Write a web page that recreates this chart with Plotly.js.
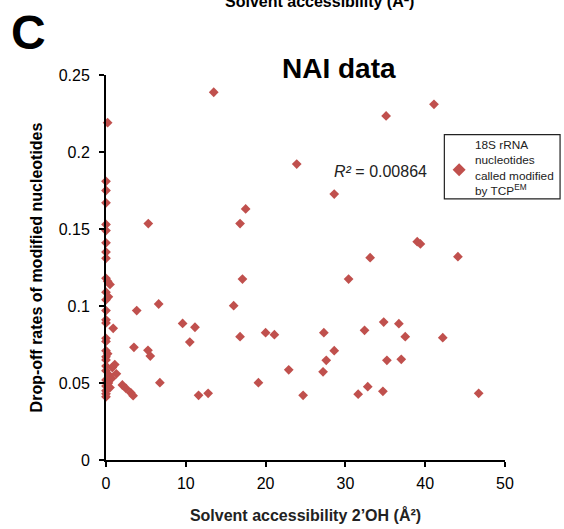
<!DOCTYPE html>
<html>
<head>
<meta charset="utf-8">
<script src="https://cdn.plot.ly/plotly-3.0.1.min.js"></script>
<style>html,body{margin:0;padding:0;background:#fff;}#chart{width:564px;height:529px;}</style>
</head>
<body>
<div id="chart"></div>
<script>
// Solvent accessibility 2'OH (Å²) for each nucleotide called modified
const accessibility = [
  0.2, 0, 0, 0, 0, 0, 0, 0, 0, 0, 0.5, 0.2, 0, 0.3, 0, 0, 0, 0, 0.9, 0, 0, 0, 0, 0, 0.2, 0, 1.1, 1.3, 0, 0.4, 0, 0.3, 0, 0.5, 0, 0, 0, 0.7, 0.8,
  2.05, 2.5, 3.1, 3.4, 3.85, 6.6, 3.5, 5.26, 5.55, 6.75, 5.3, 11.6, 12.8, 9.6, 11.15, 10.5, 16.0, 16.8, 17.1, 16.8, 17.5, 13.5,
  20.0, 21.1, 19.1, 22.9, 24.7, 23.9, 27.3, 27.6, 27.2, 28.6, 28.6, 30.4, 31.6, 32.4, 32.8, 33.1, 34.7, 34.8, 35.2, 35.1,
  36.7, 37.0, 37.5, 39.0, 39.4, 41.1, 42.2, 44.1, 46.7
];
// Drop-off rates of modified nucleotides
const dropoff = [
  0.219, 0.181, 0.175, 0.167, 0.153, 0.149, 0.141, 0.135, 0.131, 0.118, 0.114, 0.116, 0.109, 0.106, 0.104, 0.097, 0.091, 0.089, 0.0855, 0.079, 0.077, 0.071, 0.067, 0.065, 0.069, 0.061, 0.062, 0.056, 0.058, 0.055, 0.052, 0.05, 0.048, 0.047, 0.045, 0.043, 0.041, 0.053, 0.06,
  0.0487, 0.0465, 0.0437, 0.0418, 0.097, 0.1013, 0.0732, 0.0712, 0.0675, 0.0502, 0.1535, 0.042, 0.0433, 0.0887, 0.0862, 0.0766, 0.1002, 0.0801, 0.1175, 0.1535, 0.163, 0.2388,
  0.0827, 0.0814, 0.0502, 0.0586, 0.042, 0.1922, 0.0827, 0.0647, 0.0573, 0.071, 0.1727, 0.1175, 0.0427, 0.0842, 0.0476, 0.1314, 0.0446, 0.0896, 0.0647, 0.2234,
  0.0885, 0.0654, 0.0801, 0.1418, 0.1403, 0.231, 0.0794, 0.132, 0.0433
];
const seriesName = "18S rRNA<br>nucleotides<br>called modified<br>by TCP<sup>EM</sup>";
const xTicks = [0, 10, 20, 30, 40, 50];
const yTicks = [0, 0.05, 0.1, 0.15, 0.2, 0.25];
const yTickText = ["0", "0.05", "0.1", "0.15", "0.2", "0.25"];
const r2Text = "<i>R²</i> = 0.00864";

const red = "#c0504d";
const font = "Liberation Sans, Arial, Helvetica, sans-serif";

const trace = {
  type: "scatter", mode: "markers", name: seriesName,
  x: accessibility, y: dropoff,
  marker: {symbol: "diamond", size: 7.5, color: red},
  cliponaxis: false, showlegend: false
};

const axisBase = {
  showline: true, linecolor: "#000", linewidth: 2, mirror: false,
  ticks: "outside", ticklen: 5, tickwidth: 2, tickcolor: "#000",
  showgrid: false, zeroline: false, fixedrange: true,
  tickfont: {family: font, size: 16, color: "#000"}
};

const layout = {
  width: 564, height: 529,
  margin: {l: 106, r: 59, t: 75, b: 69},
  paper_bgcolor: "#fff", plot_bgcolor: "#fff",
  showlegend: false,
  xaxis: Object.assign({}, axisBase, {
    range: [0, 50], tickvals: xTicks, ticklabelstandoff: 3,
    title: {text: "<b>Solvent accessibility 2’OH (Å²)</b>", font: {family: font, size: 16, color: "#222"}, standoff: 19}
  }),
  yaxis: Object.assign({}, axisBase, {
    range: [0, 0.25], tickvals: yTicks, ticktext: yTickText, ticklabelstandoff: 6,
    title: {text: "<b>Drop-off rates of modified nucleotides</b>", font: {family: font, size: 16, color: "#000"}, standoff: 12}
  }),
  shapes: [
    {type: "rect", xref: "paper", yref: "paper", x0: 0.848, x1: 1.138, y0: 0.678, y1: 0.845,
     line: {color: "#222", width: 1.2}, fillcolor: "rgba(0,0,0,0)"},
    {type: "path", xref: "paper", yref: "paper", xsizemode: "pixel", ysizemode: "pixel",
     xanchor: 0.885, yanchor: 0.754, path: "M -6.5 0 L 0 6.5 L 6.5 0 L 0 -6.5 Z",
     fillcolor: red, line: {width: 0}}
  ],
  annotations: [
    {xref: "paper", yref: "paper", x: 0.92, y: 0.758, xanchor: "left", yanchor: "middle", align: "left",
     text: seriesName, showarrow: false, font: {family: font, size: 11.8, color: "#222"}},
    {xref: "x", yref: "y", x: 28.3, y: 0.1875, xanchor: "left", yanchor: "middle",
     text: r2Text, showarrow: false, font: {family: font, size: 16, color: "#222"}},
    {xref: "paper", yref: "paper", x: 0.585, y: 1.018, xanchor: "center", yanchor: "middle",
     text: "<b>NAI data</b>", showarrow: false, font: {family: font, size: 28, color: "#000"}},
    {xref: "paper", yref: "paper", x: -0.193, y: 1.11, xanchor: "center", yanchor: "middle",
     text: "<b>C</b>", showarrow: false, font: {family: font, size: 48, color: "#000"}},
    {xref: "paper", yref: "paper", x: 0.535, y: 1.163, xanchor: "center", yanchor: "bottom",
     text: "<b>Solvent accessibility (Å²)</b>", showarrow: false, font: {family: font, size: 16, color: "#000"}}
  ]
};

Plotly.newPlot("chart", [trace], layout, {displayModeBar: false, staticPlot: true});
</script>
</body>
</html>
